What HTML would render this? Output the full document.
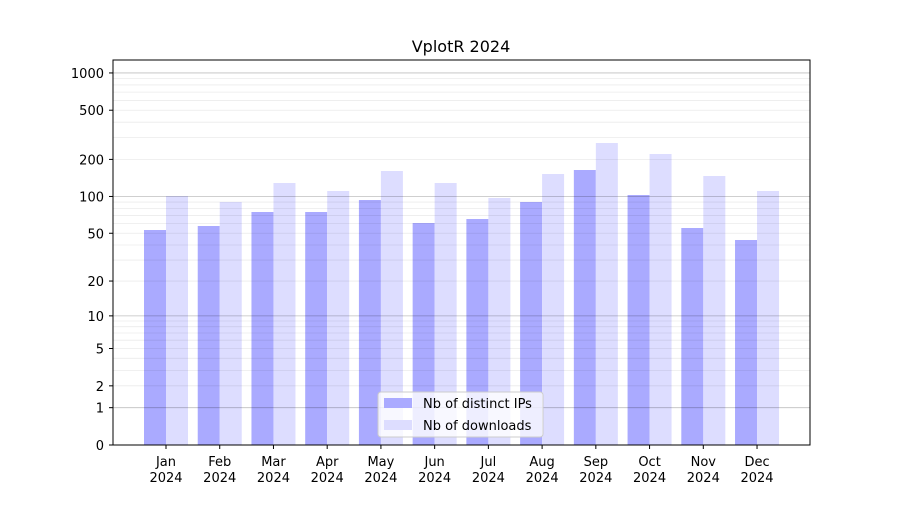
<!DOCTYPE html>
<html><head><meta charset="utf-8"><style>
body{margin:0;background:#fff}
svg text{font-family:"DejaVu Sans","Liberation Sans",sans-serif;font-size:13px;fill:#000}
</style></head><body>
<svg width="900" height="500" xmlns="http://www.w3.org/2000/svg">
<rect width="900" height="500" fill="#fff"/>
<g id="bars"></g>
<g id="grid"></g>
<rect x="113" y="60" width="697" height="385" fill="none" stroke="#000" stroke-width="1"/>
<g id="ticks"></g>
<text x="461" y="52" text-anchor="middle" style="font-size:16px">VplotR 2024</text>
<g>
<rect x="378" y="392" width="165" height="45" rx="3" fill="#fff" fill-opacity="0.8" stroke="#ccc"/>
<rect x="384" y="398" width="28" height="10" fill="#aaaaff"/>
<text x="423" y="408">Nb of distinct IPs</text>
<rect x="384" y="420" width="28" height="10" fill="#ddddff"/>
<text x="423" y="430">Nb of downloads</text>
</g>
</svg>
<script>
const ns="http://www.w3.org/2000/svg";
function el(p,t,a,txt){const e=document.createElementNS(ns,t);for(const k in a)e.setAttribute(k,a[k]);if(txt!==undefined)e.textContent=txt;document.getElementById(p).appendChild(e);return e;}
const Y=v=>445-124*Math.log10(1+v);
for(const d of [1,10,100]){for(let m=2;m<10;m++){const y=Y(d*m);el("grid","line",{x1:113,x2:810,y1:y,y2:y,stroke:"#000","stroke-opacity":0.08,"stroke-width":0.8});}}
for(const v of [1,10,100,1000]){const y=Y(v);el("grid","line",{x1:113,x2:810,y1:y,y2:y,stroke:"#000","stroke-opacity":0.25,"stroke-width":0.8});}
for(const v of [0,1,2,5,10,20,50,100,200,500,1000]){const y=Y(v);el("ticks","line",{x1:109,x2:113,y1:y,y2:y,stroke:"#000"});el("ticks","text",{x:104,y:y+5,"text-anchor":"end"},String(v));}
const months=["Jan","Feb","Mar","Apr","May","Jun","Jul","Aug","Sep","Oct","Nov","Dec"];
const ip=[230,226,212,212,200,223,219,202,170,195,228,240];
const dl=[196,202,183,191,171,183,198,174,143,154,176,191];
months.forEach((m,i)=>{const c=166+i*53.73;
el("bars","rect",{x:c-22,y:ip[i],width:22,height:445-ip[i],fill:"#aaaaff"});
el("bars","rect",{x:c,y:dl[i],width:22,height:445-dl[i],fill:"#ddddff"});
el("ticks","line",{x1:c,x2:c,y1:445,y2:449,stroke:"#000"});
el("ticks","text",{x:c,y:466,"text-anchor":"middle"},m);
el("ticks","text",{x:c,y:482,"text-anchor":"middle"},"2024");
});
</script>
</body></html>
